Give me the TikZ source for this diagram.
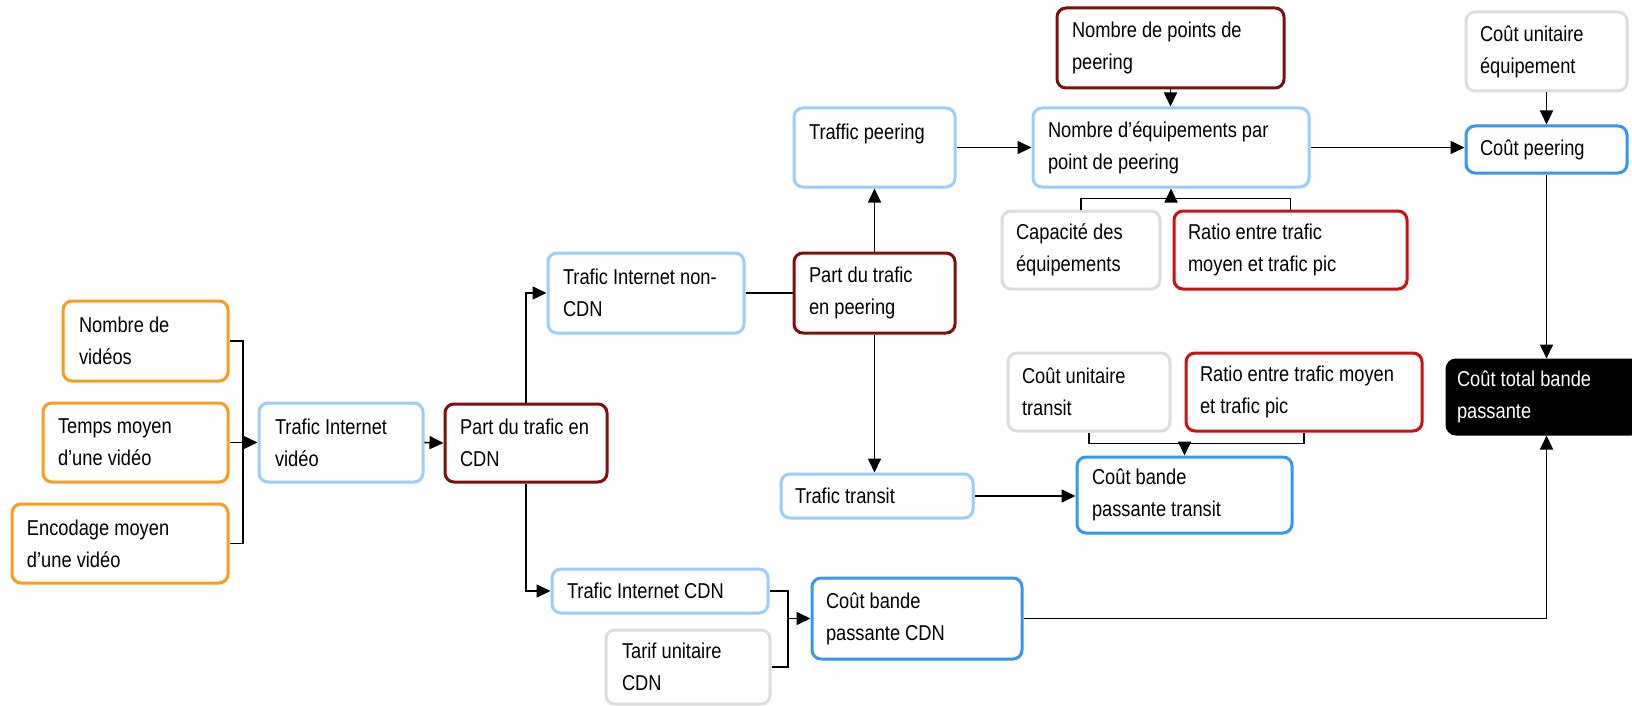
\documentclass[tikz,border=0pt]{standalone}
\usepackage{fontspec}
\setmainfont{Liberation Sans}[FakeStretch=0.85]
\usetikzlibrary{arrows.meta,calc}

\definecolor{corange}{RGB}{248,158,28}
\definecolor{clblue}{RGB}{155,205,250}
\definecolor{cblue}{RGB}{55,150,240}
\definecolor{cdred}{RGB}{125,15,15}
\definecolor{cred}{RGB}{205,15,20}
\definecolor{cgray}{RGB}{220,220,220}

\tikzset{
  box/.style={draw, line width=3pt, rounded corners=9pt, fill=white,
    font=\fontsize{21.5}{32}\selectfont, inner xsep=0pt, inner ysep=0pt},
  orangebox/.style={box, draw=corange},
  lbluebox/.style={box, draw=clblue},
  bluebox/.style={box, draw=cblue},
  dredbox/.style={box, draw=cdred},
  redbox/.style={box, draw=cred},
  graybox/.style={box, draw=cgray},
  blackbox/.style={box, draw=black, fill=black, text=white},
  conn/.style={line width=1.6pt},
  arr/.style={conn, -{Triangle[length=14pt,width=13pt]}},
}

% name, style, left, top, right, bottom, left text inset, text
\newcommand{\BX}[8]{%
  \pgfmathsetmacro\bxw{#5-#3}%
  \pgfmathsetmacro\bxh{#6-#4}%
  \pgfmathsetmacro\bxt{#5-#3-#7}%
  \pgfmathsetmacro\bxcx{(#3+#5)/2}%
  \pgfmathsetmacro\bxcy{(#4+#6)/2}%
  \node[#2, minimum width=\bxw pt, minimum height=\bxh pt] (#1) at (\bxcx,\bxcy)
    {\hspace*{#7pt}\parbox{\bxt pt}{\raggedright #8}};%
}

\begin{document}
\begin{tikzpicture}[x=1pt,y=-1pt]
\fill[white] (0,0) rectangle (1632,706);
\useasboundingbox (0,0) rectangle (1632,706);

\BX{nv}{orangebox}{63}{301}{228}{381}{16}{Nombre de\\vidéos}
\BX{tm}{orangebox}{43}{403}{228}{482}{15}{Temps moyen\\d’une vidéo}
\BX{enc}{orangebox}{12}{504}{228}{583}{15}{Encodage moyen\\d’une vidéo}
\BX{tiv}{lbluebox}{259}{403}{423}{482}{16}{Trafic Internet\\vidéo}
\BX{pcdn}{dredbox}{445}{404}{607}{482}{15}{Part du trafic en\\CDN}
\BX{tnc}{lbluebox}{548}{253}{744}{333}{15}{Trafic Internet non-\\CDN}
\BX{ppeer}{dredbox}{794}{253}{955}{333}{15}{Part du trafic\\en peering}
\BX{tpeer}{lbluebox}{794}{108}{955}{187}{15}{Traffic peering\\\mbox{}}
\BX{npp}{dredbox}{1057}{8}{1284}{88}{15}{Nombre de points de\\peering}
\BX{neq}{lbluebox}{1033}{108}{1309}{187}{15}{Nombre d’équipements par\\point de peering}
\BX{cap}{graybox}{1002}{211}{1160}{289}{14}{Capacité des\\équipements}
\BX{ra}{redbox}{1174}{211}{1407}{289}{14}{Ratio entre trafic\\moyen et trafic pic}
\BX{cue}{graybox}{1466}{12}{1627}{91}{14}{Coût unitaire\\équipement}
\BX{cpeer}{bluebox}{1466}{126}{1627}{173}{14}{Coût peering}
\BX{total}{blackbox}{1447}{360}{1640}{434}{10}{Coût total bande\\passante}
\BX{cut}{graybox}{1008}{353}{1170}{431}{14}{Coût unitaire\\transit}
\BX{rb}{redbox}{1186}{353}{1422}{431}{14}{Ratio entre trafic moyen\\et trafic pic}
\BX{cbpt}{bluebox}{1077}{457}{1292}{533}{15}{Coût bande\\passante transit}
\BX{ttr}{lbluebox}{781}{474}{973}{518}{14}{Trafic transit}
\BX{tic}{lbluebox}{552}{569}{768}{613}{15}{Trafic Internet CDN}
\BX{tuc}{graybox}{606}{630}{770}{704}{16}{Tarif unitaire\\CDN}
\BX{cbpc}{bluebox}{812}{578}{1022}{659}{14}{Coût bande\\passante CDN}

% left inputs
\coordinate (j1) at (243,0);
\draw[conn] (nv.east) -| (j1 |- enc.east) -- (enc.east);
\draw[arr] (tm.east) -- (tiv.west);
\draw[arr] (tiv.east) -- (pcdn.west);

% CDN split
\draw[arr] (pcdn.north) |- (tnc.west);
\draw[arr] (pcdn.south) |- (tic.west);
\draw[conn] (tnc.east) -- (ppeer.west);

% peering split
\draw[arr] (ppeer.north) -- (ppeer.north |- tpeer.south);
\draw[arr] (ppeer.south) -- (ppeer.south |- ttr.north);
\draw[arr] (tpeer.east) -- (neq.west);
\draw[arr] (npp.south) -- (npp.south |- neq.north);

% capacity and ratio into equipment count
\coordinate (j2) at ([yshift=11pt]cap.north);
\draw[conn] (cap.north) -- (j2) -| (ra.north);
\draw[arr] (j2 -| neq.south) -- (neq.south);

% peering cost
\draw[arr] (neq.east) -- (neq.east -| cpeer.west);
\draw[arr] (cue.south) -- (cue.south |- cpeer.north);
\draw[arr] (cpeer.south) -- (cpeer.south |- total.north);

% transit cost
\coordinate (j3) at ([yshift=-11pt]cut.south);
\draw[conn] (cut.south) -- (j3) -| (rb.south);
\draw[arr] (j3 -| cbpt.north) -- (cbpt.north);
\draw[arr] (ttr.east) -- (ttr.east -| cbpt.west);

% CDN cost
\coordinate (j4) at (788,0);
\draw[conn] (tic.east) -| (j4 |- tuc.east) -- (tuc.east);
\draw[arr] (j4 |- cbpc.west) -- (cbpc.west);
\draw[arr] (cbpc.east) -| (cpeer.south |- total.south);
\end{tikzpicture}
\end{document}
